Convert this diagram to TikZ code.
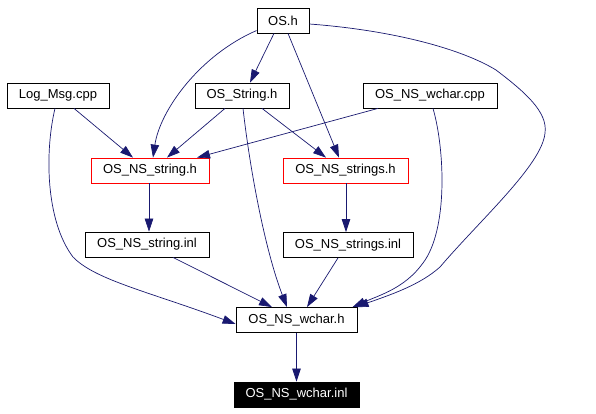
\documentclass[tikz,border=0pt]{standalone}
\usepackage{fontspec}
\setmainfont{Liberation Sans}
\usetikzlibrary{arrows.meta}
\definecolor{edgeblue}{RGB}{25,25,112}
\tikzset{
  filebox/.style={draw=black, line width=0.8pt, fill=white, minimum height=25pt, inner sep=0pt, font=\fontsize{13}{15}\selectfont, anchor=center},
  redbox/.style={filebox, draw=red},
  blackbox/.style={filebox, fill=black, text=white},
  dep/.style={draw=edgeblue, line width=0.7pt, -{Triangle[length=13pt,width=8.5pt]}, fill=none},
}
\begin{document}
\begin{tikzpicture}[x=1pt,y=-1pt]
\useasboundingbox (0,0) rectangle (596,413);
\fill[white] (0,0) rectangle (596,413);
\node[filebox, minimum width=52pt] (os) at (283,20.5) {OS.h};
\node[filebox, minimum width=102pt] (log) at (58,95.5) {Log\_Msg.cpp};
\node[filebox, minimum width=94pt] (osstr) at (242,95.5) {OS\_String.h};
\node[filebox, minimum width=134pt] (wcpp) at (430,95.5) {OS\_NS\_wchar.cpp};
\node[redbox, minimum width=118pt] (nsstr) at (150,170.5) {OS\_NS\_string.h};
\node[redbox, minimum width=125pt] (nsstrs) at (345.5,170.5) {OS\_NS\_strings.h};
\node[filebox, minimum width=124pt] (nsstrinl) at (147,244.5) {OS\_NS\_string.inl};
\node[filebox, minimum width=130pt] (nsstrsinl) at (348,245) {OS\_NS\_strings.inl};
\node[filebox, minimum width=121pt] (wch) at (296.5,320) {OS\_NS\_wchar.h};
\node[blackbox, minimum width=125pt] (winl) at (296.5,394.5) {OS\_NS\_wchar.inl};

% OS.h edges
\draw[dep] ([xshift=-9pt]os.south) -- ([xshift=8pt]osstr.north);
\draw[dep] ([yshift=-10pt]os.west) .. controls (200,55) and (160,110) .. ([xshift=3pt]nsstr.north);
\draw[dep] ([xshift=5pt]os.south) -- ([xshift=-6.5pt]nsstrs.north);
\draw[dep] ([yshift=-3.5pt]os.east) .. controls (390,30) and (460,48) .. (496,70)
  .. controls (525,92) and (548,112) .. (545,133)
  .. controls (542,165) and (480,220) .. (440,267)
  .. controls (420,285) and (390,295) .. ([xshift=59pt]wch.north);
% Log_Msg.cpp edges
\draw[dep] ([xshift=16pt]log.south) -- ([xshift=-17pt]nsstr.north);
\draw[dep] ([xshift=-3pt]log.south) .. controls (45,150) and (45,220) .. (73,257)
  .. controls (95,280) and (150,292) .. ([yshift=-4pt]wch.west);
% OS_String.h edges
\draw[dep] ([xshift=-17pt]osstr.south) -- ([xshift=17pt]nsstr.north);
\draw[dep] ([xshift=20pt]osstr.south) -- ([xshift=-19.5pt]nsstrs.north);
\draw[dep] ([xshift=1pt]osstr.south) .. controls (250,170) and (265,250) .. ([xshift=-9.5pt]wch.north);
% OS_NS_wchar.cpp edges
\draw[dep] ([xshift=-52pt]wcpp.south) -- ([xshift=47pt]nsstr.north);
\draw[dep] ([xshift=3pt]wcpp.south) .. controls (445,150) and (448,230) .. (423,263)
  .. controls (405,288) and (380,295) .. ([xshift=56pt]wch.north);
% lower edges
\draw[dep] ([xshift=-1pt]nsstr.south) -- ([xshift=2pt]nsstrinl.north);
\draw[dep] ([xshift=0.5pt]nsstrs.south) -- ([xshift=-2pt]nsstrsinl.north);
\draw[dep] ([xshift=26pt]nsstrinl.south) -- ([xshift=-24.5pt]wch.north);
\draw[dep] ([xshift=-10pt]nsstrsinl.south) -- ([xshift=10.5pt]wch.north);
\draw[dep] (wch.south) -- (winl.north);
\end{tikzpicture}
\end{document}
